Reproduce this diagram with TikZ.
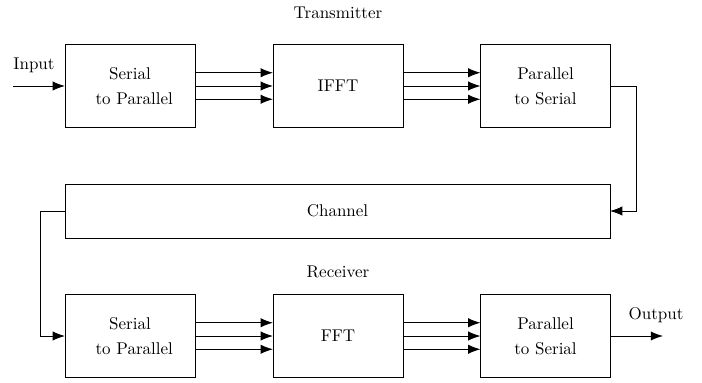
\documentclass[tikz,border=0pt]{standalone}
\usetikzlibrary{arrows.meta,calc}
\begin{document}
\begin{tikzpicture}[x=0.588pt,y=-0.588pt,
  blk/.style={draw,line width=0.5pt,inner sep=0pt,outer sep=0pt,minimum width=76.5pt,minimum height=48.5pt,align=center},
  chan/.style={draw,line width=0.5pt,inner sep=0pt,outer sep=0pt,minimum width=320.5pt,minimum height=31.8pt},
  arr/.style={line width=0.5pt,-{Latex[length=7.2pt,width=5.4pt]}},
  lbl/.style={inner sep=0pt}]
\useasboundingbox (0,0) rectangle (702,383);
\node[lbl] (tx) at (338,13) {Transmitter};
\node[lbl] (rx) at (338,272) {Receiver};
\node[blk] (b1) at (130,86) {Serial\\[2.5pt]\hspace*{5pt}to Parallel};
\node[blk] (b2) at (338,86) {IFFT};
\node[blk] (b3) at (545.5,86) {Parallel\\[2.5pt]to Serial};
\node[chan] (ch) at (337.5,211) {Channel};
\node[blk] (r1) at (130,336) {Serial\\[2.5pt]\hspace*{5pt}to Parallel};
\node[blk] (r2) at (338,336) {FFT};
\node[blk] (r3) at (545.5,336) {Parallel\\[2.5pt]to Serial};
\coordinate (in) at (13,86);
\coordinate (out) at (663,336);
\node[lbl] (inl) at (34,65) {Input};
\node[lbl] (outl) at (656,315) {Output};
\draw[arr] (in) -- (b1.west);
\foreach \s in {7.8pt,0pt,-7.8pt}{
  \draw[arr] ([yshift=\s]b1.east) -- ([yshift=\s]b2.west);
  \draw[arr] ([yshift=\s]b2.east) -- ([yshift=\s]b3.west);
  \draw[arr] ([yshift=\s]r1.east) -- ([yshift=\s]r2.west);
  \draw[arr] ([yshift=\s]r2.east) -- ([yshift=\s]r3.west);
}
\draw[arr] (b3.east) -- ++(15.3pt,0) |- (ch.east);
\draw[arr] (ch.west) -- ++(-14.7pt,0) |- (r1.west);
\draw[arr] (r3.east) -- (out);
\end{tikzpicture}
\end{document}
